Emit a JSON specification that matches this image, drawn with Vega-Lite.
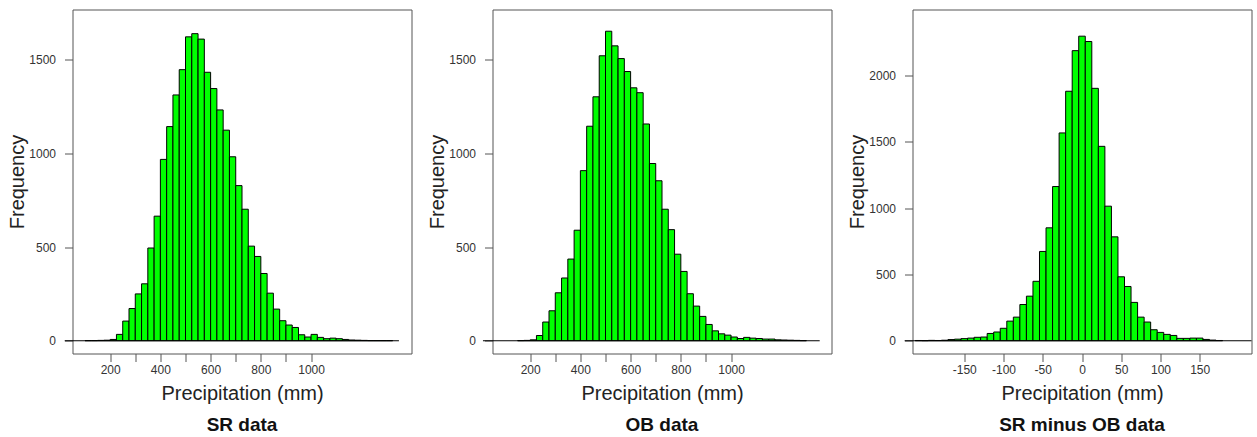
{
  "$schema": "https://vega.github.io/schema/vega-lite/v6.json",
  "padding": {"left": 6.5, "top": 8.5, "right": 0, "bottom": 0},
  "background": "white",
  "spacing": 14,
  "config": {
    "font": "Liberation Sans",
    "view": {"stroke": "#555", "strokeWidth": 1},
    "axis": {"grid": false, "domain": false, "tickColor": "#555", "tickSize": 8, "tickWidth": 1,
      "labelFont": "Liberation Sans", "labelFontSize": 12, "labelColor": "#333", "labelOverlap": false,
      "titleFont": "Liberation Sans", "titleFontSize": 20, "titleFontWeight": "normal", "titleColor": "#222"}
  },
  "datasets": {
    "sr": [
      {"b0": 100, "b1": 125, "count": 1}, {"b0": 125, "b1": 150, "count": 1}, {"b0": 150, "b1": 175, "count": 2},
      {"b0": 175, "b1": 200, "count": 3}, {"b0": 200, "b1": 225, "count": 7}, {"b0": 225, "b1": 250, "count": 34},
      {"b0": 250, "b1": 275, "count": 105}, {"b0": 275, "b1": 300, "count": 172}, {"b0": 300, "b1": 325, "count": 250},
      {"b0": 325, "b1": 350, "count": 304}, {"b0": 350, "b1": 375, "count": 495}, {"b0": 375, "b1": 400, "count": 665},
      {"b0": 400, "b1": 425, "count": 968}, {"b0": 425, "b1": 450, "count": 1143}, {"b0": 450, "b1": 475, "count": 1312},
      {"b0": 475, "b1": 500, "count": 1447}, {"b0": 500, "b1": 525, "count": 1622}, {"b0": 525, "b1": 550, "count": 1639},
      {"b0": 550, "b1": 575, "count": 1610}, {"b0": 575, "b1": 600, "count": 1433}, {"b0": 600, "b1": 625, "count": 1346},
      {"b0": 625, "b1": 650, "count": 1232}, {"b0": 650, "b1": 675, "count": 1124}, {"b0": 675, "b1": 700, "count": 982},
      {"b0": 700, "b1": 725, "count": 828}, {"b0": 725, "b1": 750, "count": 702}, {"b0": 750, "b1": 775, "count": 505},
      {"b0": 775, "b1": 800, "count": 450}, {"b0": 800, "b1": 825, "count": 359}, {"b0": 825, "b1": 850, "count": 254},
      {"b0": 850, "b1": 875, "count": 169}, {"b0": 875, "b1": 900, "count": 107}, {"b0": 900, "b1": 925, "count": 84},
      {"b0": 925, "b1": 950, "count": 71}, {"b0": 950, "b1": 975, "count": 32}, {"b0": 975, "b1": 1000, "count": 20},
      {"b0": 1000, "b1": 1025, "count": 34}, {"b0": 1025, "b1": 1050, "count": 18}, {"b0": 1050, "b1": 1075, "count": 11},
      {"b0": 1075, "b1": 1100, "count": 14}, {"b0": 1100, "b1": 1125, "count": 11}, {"b0": 1125, "b1": 1150, "count": 7},
      {"b0": 1150, "b1": 1175, "count": 4}, {"b0": 1175, "b1": 1200, "count": 3}, {"b0": 1200, "b1": 1225, "count": 2},
      {"b0": 1225, "b1": 1250, "count": 1}, {"b0": 1250, "b1": 1275, "count": 1}, {"b0": 1275, "b1": 1300, "count": 1},
      {"b0": 1300, "b1": 1325, "count": 1}
    ],
    "ob": [
      {"b0": 150, "b1": 175, "count": 1}, {"b0": 175, "b1": 200, "count": 2}, {"b0": 200, "b1": 225, "count": 5},
      {"b0": 225, "b1": 250, "count": 28}, {"b0": 250, "b1": 275, "count": 100}, {"b0": 275, "b1": 300, "count": 160},
      {"b0": 300, "b1": 325, "count": 256}, {"b0": 325, "b1": 350, "count": 335}, {"b0": 350, "b1": 375, "count": 436},
      {"b0": 375, "b1": 400, "count": 590}, {"b0": 400, "b1": 425, "count": 908}, {"b0": 425, "b1": 450, "count": 1145},
      {"b0": 450, "b1": 475, "count": 1302}, {"b0": 475, "b1": 500, "count": 1521}, {"b0": 500, "b1": 525, "count": 1652},
      {"b0": 525, "b1": 550, "count": 1574}, {"b0": 550, "b1": 575, "count": 1506}, {"b0": 575, "b1": 600, "count": 1437},
      {"b0": 600, "b1": 625, "count": 1350}, {"b0": 625, "b1": 650, "count": 1324}, {"b0": 650, "b1": 675, "count": 1157},
      {"b0": 675, "b1": 700, "count": 946}, {"b0": 700, "b1": 725, "count": 854}, {"b0": 725, "b1": 750, "count": 702},
      {"b0": 750, "b1": 775, "count": 593}, {"b0": 775, "b1": 800, "count": 462}, {"b0": 800, "b1": 825, "count": 370},
      {"b0": 825, "b1": 850, "count": 251}, {"b0": 850, "b1": 875, "count": 185}, {"b0": 875, "b1": 900, "count": 130},
      {"b0": 900, "b1": 925, "count": 87}, {"b0": 925, "b1": 950, "count": 53}, {"b0": 950, "b1": 975, "count": 37},
      {"b0": 975, "b1": 1000, "count": 30}, {"b0": 1000, "b1": 1025, "count": 20}, {"b0": 1025, "b1": 1050, "count": 12},
      {"b0": 1050, "b1": 1075, "count": 18}, {"b0": 1075, "b1": 1100, "count": 14}, {"b0": 1100, "b1": 1125, "count": 12},
      {"b0": 1125, "b1": 1150, "count": 9}, {"b0": 1150, "b1": 1175, "count": 9}, {"b0": 1175, "b1": 1200, "count": 5},
      {"b0": 1200, "b1": 1225, "count": 4}, {"b0": 1225, "b1": 1250, "count": 3}, {"b0": 1250, "b1": 1275, "count": 2},
      {"b0": 1275, "b1": 1300, "count": 1}
    ],
    "diff": [
      {"b0": -212.5, "b1": -204.17, "count": 2}, {"b0": -204.17, "b1": -195.83, "count": 1}, {"b0": -195.83, "b1": -187.5, "count": 3},
      {"b0": -187.5, "b1": -179.17, "count": 2}, {"b0": -179.17, "b1": -170.83, "count": 4}, {"b0": -170.83, "b1": -162.5, "count": 9},
      {"b0": -162.5, "b1": -154.17, "count": 12}, {"b0": -154.17, "b1": -145.83, "count": 16}, {"b0": -145.83, "b1": -137.5, "count": 20},
      {"b0": -137.5, "b1": -129.17, "count": 26}, {"b0": -129.17, "b1": -120.83, "count": 28}, {"b0": -120.83, "b1": -112.5, "count": 55},
      {"b0": -112.5, "b1": -104.17, "count": 66}, {"b0": -104.17, "b1": -95.83, "count": 94}, {"b0": -95.83, "b1": -87.5, "count": 148},
      {"b0": -87.5, "b1": -79.17, "count": 178}, {"b0": -79.17, "b1": -70.83, "count": 273}, {"b0": -70.83, "b1": -62.5, "count": 336},
      {"b0": -62.5, "b1": -54.17, "count": 448}, {"b0": -54.17, "b1": -45.83, "count": 673}, {"b0": -45.83, "b1": -37.5, "count": 851},
      {"b0": -37.5, "b1": -29.17, "count": 1162}, {"b0": -29.17, "b1": -20.83, "count": 1566}, {"b0": -20.83, "b1": -12.5, "count": 1880},
      {"b0": -12.5, "b1": -4.17, "count": 2186}, {"b0": -4.17, "b1": 4.17, "count": 2295}, {"b0": 4.17, "b1": 12.5, "count": 2255},
      {"b0": 12.5, "b1": 20.83, "count": 1902}, {"b0": 20.83, "b1": 29.17, "count": 1465}, {"b0": 29.17, "b1": 37.5, "count": 1014},
      {"b0": 37.5, "b1": 45.83, "count": 783}, {"b0": 45.83, "b1": 54.17, "count": 482}, {"b0": 54.17, "b1": 62.5, "count": 409},
      {"b0": 62.5, "b1": 70.83, "count": 289}, {"b0": 70.83, "b1": 79.17, "count": 178}, {"b0": 79.17, "b1": 87.5, "count": 141},
      {"b0": 87.5, "b1": 95.83, "count": 83}, {"b0": 95.83, "b1": 104.17, "count": 63}, {"b0": 104.17, "b1": 112.5, "count": 48},
      {"b0": 112.5, "b1": 120.83, "count": 40}, {"b0": 120.83, "b1": 129.17, "count": 18}, {"b0": 129.17, "b1": 137.5, "count": 18},
      {"b0": 137.5, "b1": 145.83, "count": 20}, {"b0": 145.83, "b1": 154.17, "count": 20}, {"b0": 154.17, "b1": 162.5, "count": 10},
      {"b0": 162.5, "b1": 170.83, "count": 5}, {"b0": 170.83, "b1": 179.17, "count": 2}
    ],
    "srline": [{"from": 19, "to": 1350, "level": 0}],
    "obline": [{"from": 12, "to": 1353, "level": 0}],
    "diffline": [{"from": -226, "to": 216, "level": 0}]
  },
  "hconcat": [
    {
      "width": 339, "height": 344,
      "title": {"text": "SR data", "orient": "bottom", "anchor": "middle", "frame": "group", "offset": 27, "baseline": "alphabetic", "fontSize": 19, "fontWeight": "bold", "color": "#111", "font": "Liberation Sans"},
      "layer": [
        {
          "data": {"name": "sr"},
          "mark": {"type": "rect", "fill": "#00ff00", "stroke": "#000000", "strokeWidth": 1},
          "encoding": {
            "x": {"field": "b0", "type": "quantitative", "title": "Precipitation (mm)", "scale": {"domain": [50, 1400], "nice": false, "zero": false},
              "axis": {"values": [200, 300, 400, 500, 600, 700, 800, 900, 1000], "labelExpr": "datum.value % 200 == 0 ? '' + datum.value : ''", "labelPadding": 3, "titleY": 46, "titleBaseline": "alphabetic"}},
            "x2": {"field": "b1"},
            "y": {"field": "count", "type": "quantitative", "title": "Frequency", "scale": {"domain": [-68, 1768], "nice": false, "zero": false},
              "axis": {"values": [0, 500, 1000, 1500], "format": "d", "labelPadding": 9, "titleX": -49, "titleBaseline": "alphabetic"}},
            "y2": {"datum": 0}
          }
        },
        {
          "data": {"name": "srline"},
          "mark": {"type": "rule", "color": "#000000", "strokeWidth": 1},
          "encoding": {
            "x": {"field": "from", "type": "quantitative", "title": "Precipitation (mm)"},
            "x2": {"field": "to"},
            "y": {"field": "level", "type": "quantitative", "title": "Frequency"}
          }
        }
      ]
    },
    {
      "width": 339, "height": 344,
      "title": {"text": "OB data", "orient": "bottom", "anchor": "middle", "frame": "group", "offset": 27, "baseline": "alphabetic", "fontSize": 19, "fontWeight": "bold", "color": "#111", "font": "Liberation Sans"},
      "layer": [
        {
          "data": {"name": "ob"},
          "mark": {"type": "rect", "fill": "#00ff00", "stroke": "#000000", "strokeWidth": 1},
          "encoding": {
            "x": {"field": "b0", "type": "quantitative", "title": "Precipitation (mm)", "scale": {"domain": [50, 1400], "nice": false, "zero": false},
              "axis": {"values": [200, 300, 400, 500, 600, 700, 800, 900, 1000], "labelExpr": "datum.value % 200 == 0 ? '' + datum.value : ''", "labelPadding": 3, "titleY": 46, "titleBaseline": "alphabetic"}},
            "x2": {"field": "b1"},
            "y": {"field": "count", "type": "quantitative", "title": "Frequency", "scale": {"domain": [-68, 1768], "nice": false, "zero": false},
              "axis": {"values": [0, 500, 1000, 1500], "format": "d", "labelPadding": 9, "titleX": -49, "titleBaseline": "alphabetic"}},
            "y2": {"datum": 0}
          }
        },
        {
          "data": {"name": "obline"},
          "mark": {"type": "rule", "color": "#000000", "strokeWidth": 1},
          "encoding": {
            "x": {"field": "from", "type": "quantitative", "title": "Precipitation (mm)"},
            "x2": {"field": "to"},
            "y": {"field": "level", "type": "quantitative", "title": "Frequency"}
          }
        }
      ]
    },
    {
      "width": 339, "height": 344,
      "title": {"text": "SR minus OB data", "orient": "bottom", "anchor": "middle", "frame": "group", "offset": 27, "baseline": "alphabetic", "fontSize": 19, "fontWeight": "bold", "color": "#111", "font": "Liberation Sans"},
      "layer": [
        {
          "data": {"name": "diff"},
          "mark": {"type": "rect", "fill": "#00ff00", "stroke": "#000000", "strokeWidth": 1},
          "encoding": {
            "x": {"field": "b0", "type": "quantitative", "title": "Precipitation (mm)", "scale": {"domain": [-216, 216], "nice": false, "zero": false},
              "axis": {"values": [-150, -100, -50, 0, 50, 100, 150], "labelExpr": "'' + datum.value", "labelPadding": 3, "titleY": 46, "titleBaseline": "alphabetic"}},
            "x2": {"field": "b1"},
            "y": {"field": "count", "type": "quantitative", "title": "Frequency", "scale": {"domain": [-96, 2496], "nice": false, "zero": false},
              "axis": {"values": [0, 500, 1000, 1500, 2000], "format": "d", "labelPadding": 9, "titleX": -49, "titleBaseline": "alphabetic"}},
            "y2": {"datum": 0}
          }
        },
        {
          "data": {"name": "diffline"},
          "mark": {"type": "rule", "color": "#000000", "strokeWidth": 1},
          "encoding": {
            "x": {"field": "from", "type": "quantitative", "title": "Precipitation (mm)"},
            "x2": {"field": "to"},
            "y": {"field": "level", "type": "quantitative", "title": "Frequency"}
          }
        }
      ]
    }
  ]
}
